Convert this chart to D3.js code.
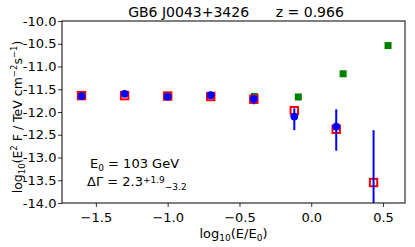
<!DOCTYPE html>
<html>
<head>
<meta charset="utf-8">
<script src="https://cdn.jsdelivr.net/npm/d3@7"></script>
<style>
  body { margin: 0; background: #fff; }
  text { font-family: "DejaVu Sans", sans-serif; fill: #000; white-space: pre; }
</style>
</head>
<body>
<div id="chart"></div>
<script>
// measured points (open red squares)
var modelX = [-1.60, -1.30, -1.00, -0.70, -0.40, -0.118, 0.174, 0.434];
var modelY = [-11.64, -11.64, -11.65, -11.66, -11.72, -11.97, -12.38, -13.55];

// blue points with error bars
var dataX = [-1.60, -1.30, -1.00, -0.70, -0.40, -0.118, 0.174, 0.434];
var dataY = [-11.65, -11.60, -11.66, -11.63, -11.71, -12.10, -12.32, -14.3];
var dataLo = [-11.67, -11.62, -11.68, -11.65, -11.83, -12.40, -12.85, -14.5];
var dataHi = [-11.63, -11.58, -11.64, -11.61, -11.68, -11.92, -11.94, -12.40];

// green squares
var greenX = [-0.396, -0.09, 0.222, 0.535];
var greenY = [-11.66, -11.67, -11.16, -10.54];

var xTicks = [-1.5, -1.0, -0.5, 0.0, 0.5];
var yTicks = [-14.0, -13.5, -13.0, -12.5, -12.0, -11.5, -11.0, -10.5, -10.0];

var width = 415, height = 247;
var margin = {left: 62, right: 10, top: 21, bottom: 44};

var svg = d3.select('#chart').append('svg')
  .attr('width', width)
  .attr('height', height);

var x = d3.scaleLinear().domain([-1.736, 0.653]).range([margin.left, width - margin.right]);
var y = d3.scaleLinear().domain([-14, -10]).range([height - margin.bottom, margin.top]);

svg.append('defs').append('clipPath').attr('id', 'clip')
  .append('rect')
  .attr('x', margin.left).attr('y', margin.top)
  .attr('width', width - margin.left - margin.right)
  .attr('height', height - margin.top - margin.bottom);

var plot = svg.append('g').attr('clip-path', 'url(#clip)');

// green squares
plot.selectAll('rect.green')
  .data(greenX)
  .enter()
  .append('rect')
  .attr('class', 'green')
  .attr('x', function (d) { return x(d) - 3.5; })
  .attr('y', function (d, i) { return y(greenY[i]) - 3.5; })
  .attr('width', 7)
  .attr('height', 7)
  .attr('fill', '#008000');

// red open squares
plot.selectAll('rect.red')
  .data(modelX)
  .enter()
  .append('rect')
  .attr('class', 'red')
  .attr('x', function (d) { return x(d) - 3.7; })
  .attr('y', function (d, i) { return y(modelY[i]) - 3.7; })
  .attr('width', 7.4)
  .attr('height', 7.4)
  .attr('fill', 'none')
  .attr('stroke', '#ff0000')
  .attr('stroke-width', 2);

// blue error bars
plot.selectAll('line.err')
  .data(dataX)
  .enter()
  .append('line')
  .attr('class', 'err')
  .attr('x1', function (d) { return x(d); })
  .attr('x2', function (d) { return x(d); })
  .attr('y1', function (d, i) { return y(dataLo[i]); })
  .attr('y2', function (d, i) { return y(dataHi[i]); })
  .attr('stroke', '#0000ff')
  .attr('stroke-width', 2);

// blue dots
plot.selectAll('circle')
  .data(dataX)
  .enter()
  .append('circle')
  .attr('cx', function (d) { return x(d); })
  .attr('cy', function (d, i) { return y(dataY[i]); })
  .attr('r', 3.9)
  .attr('fill', '#0000ff');

// axes
var xAxis = d3.axisBottom(x).tickValues(xTicks).tickSize(4)
  .tickFormat(function (d) { return d3.format('.1f')(d).replace('-', '\u2212'); });
var yAxis = d3.axisLeft(y).tickValues(yTicks).tickSize(4)
  .tickFormat(function (d) { return d3.format('.1f')(d).replace('\u2212', '-'); });

var gx = svg.append('g')
  .attr('transform', 'translate(0,' + (height - margin.bottom) + ')')
  .call(xAxis);
var gy = svg.append('g')
  .attr('transform', 'translate(' + margin.left + ',0)')
  .call(yAxis);

[gx, gy].forEach(function (g) {
  g.select('.domain').remove();
  g.selectAll('text').attr('font-size', 13).attr('font-family', 'DejaVu Sans');
  g.selectAll('line').attr('stroke', '#000').attr('stroke-width', 0.8);
});
gx.selectAll('text').attr('dy', '0.93em');
gy.selectAll('text').attr('x', -5.5);

svg.append('rect')
  .attr('x', margin.left).attr('y', margin.top)
  .attr('width', width - margin.left - margin.right)
  .attr('height', height - margin.top - margin.bottom)
  .attr('fill', 'none')
  .attr('stroke', '#000')
  .attr('stroke-width', 1);

// title
svg.append('text')
  .attr('x', 236)
  .attr('y', 17)
  .attr('text-anchor', 'middle')
  .attr('font-size', 14)
  .text('GB6 J0043+3426      z = 0.966');

// x label
var xl = svg.append('text')
  .attr('x', (margin.left + width - margin.right) / 2)
  .attr('y', 238)
  .attr('text-anchor', 'middle')
  .attr('font-size', 13);
xl.append('tspan').text('log');
xl.append('tspan').attr('font-size', 9).attr('dy', 3).text('10');
xl.append('tspan').attr('dy', -3).text('(E/E');
xl.append('tspan').attr('font-size', 9).attr('dy', 3).text('0');
xl.append('tspan').attr('dy', -3).text(')');

// y label
var yl = svg.append('text')
  .attr('transform', 'translate(22,' + ((margin.top + height - margin.bottom) / 2 + 5) + ') rotate(-90)')
  .attr('text-anchor', 'middle')
  .attr('font-size', 12.5);
yl.append('tspan').text('log');
yl.append('tspan').attr('font-size', 8.5).attr('dy', 3).text('10');
yl.append('tspan').attr('dy', -3).text('(E');
yl.append('tspan').attr('font-size', 8.5).attr('dy', -5).text('2');
yl.append('tspan').attr('dy', 5).text(' F / TeV cm');
yl.append('tspan').attr('font-size', 8.5).attr('dy', -5).text('\u22122');
yl.append('tspan').attr('dy', 5).text('s');
yl.append('tspan').attr('font-size', 8.5).attr('dy', -5).text('\u22121');
yl.append('tspan').attr('dy', 5).text(')');

// annotations
var a1 = svg.append('text')
  .attr('x', 90).attr('y', 168)
  .attr('font-size', 13);
a1.append('tspan').text('E');
a1.append('tspan').attr('font-size', 9).attr('dy', 3).text('0');
a1.append('tspan').attr('dy', -3).text(' = 103 GeV');

var a2 = svg.append('text')
  .attr('x', 87).attr('y', 186)
  .attr('font-size', 13);
a2.append('tspan').text('\u0394\u0393 = 2.3');
a2.append('tspan').attr('font-size', 9).attr('dy', -3.5).text('+1.9');
a2.append('tspan').attr('font-size', 9).attr('dy', 7).text('\u22123.2');
</script>
</body>
</html>
